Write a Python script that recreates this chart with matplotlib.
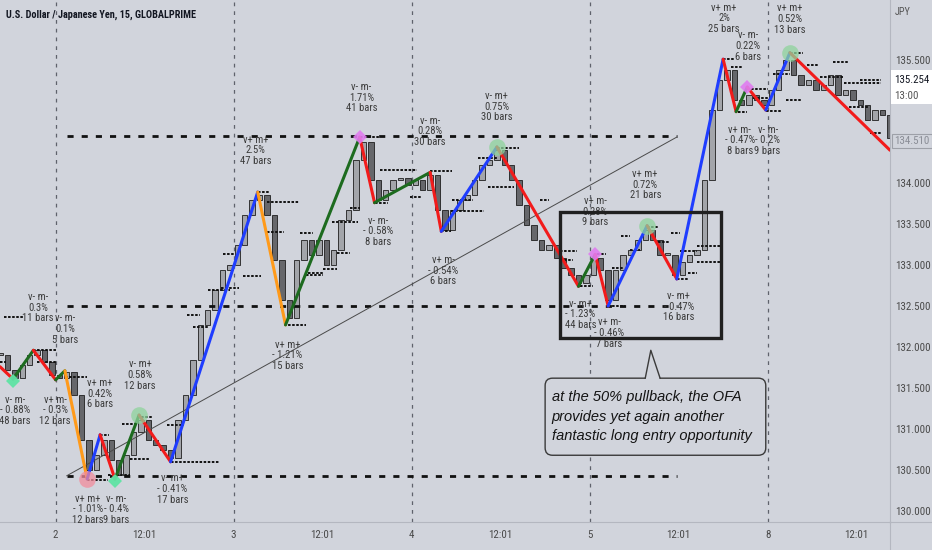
import matplotlib
matplotlib.use("Agg")
import matplotlib.pyplot as plt
import numpy as np
from matplotlib import transforms
from matplotlib.patches import Rectangle, FancyBboxPatch, Polygon


BG = "#d1d4dc"
NARROW = ["DejaVu Sans Condensed", "Roboto Condensed", "Liberation Sans Narrow",
          "Roboto", "DejaVu Sans"]

# close of every 4th 15-min bar
closes = [
    131.90, 131.72, 131.62, 131.78, 131.90, 131.96, 131.82, 131.66, 131.62, 131.70,
    131.41, 130.87, 130.50, 130.68, 130.87, 130.62, 130.44, 130.68, 130.96, 131.11,
    130.87, 130.80, 130.74, 130.65, 131.11, 131.41, 131.84, 132.27, 132.45, 132.70,
    132.94, 133.00, 133.24, 133.61, 133.79, 133.85, 133.61, 133.06, 132.57, 132.35,
    133.06, 133.30, 133.12, 133.30, 133.00, 133.18, 133.55, 133.67, 134.28, 134.50,
    134.04, 133.79, 133.91, 134.04, 134.06, 133.98, 134.04, 133.91, 134.10, 133.67,
    133.43, 133.67, 133.79, 133.85, 134.04, 134.22, 134.28, 134.40, 134.22, 134.04,
    133.73, 133.49, 133.30, 133.18, 133.24, 133.09, 132.96, 132.88, 132.78, 132.88,
    133.09, 132.94, 132.57, 132.94, 133.12, 133.18, 133.30, 133.43, 133.30, 133.12,
    133.12, 132.88, 133.04, 133.12, 133.18, 134.04, 134.89, 135.26, 135.38, 135.01,
    134.95, 135.07, 135.01, 134.95, 135.13, 135.38, 135.50, 135.32, 135.20, 135.26,
    135.13, 135.20, 135.32, 135.07, 135.13, 135.01, 134.95, 134.77, 134.89, 134.83,
    134.55,
]
BAR_STEP = 4

# zigzag pivots (bar index, price) and segment colours
piv_bar = [0, 7, 18, 30, 35, 47, 54, 62, 75, 92, 139, 154, 194, 202, 232, 238,
           268, 312, 321, 328, 349, 365, 390, 397, 403, 413, 426, 480]
piv_price = [131.76, 131.61, 131.96, 131.60, 131.71, 130.39, 130.93, 130.39, 131.17,
             130.60, 133.89, 132.27, 134.56, 133.76, 134.13, 133.41, 134.44, 132.74,
             133.13, 132.50, 133.48, 132.83, 135.51, 134.87, 135.17, 134.89, 135.59,
             134.40]
seg_color = ["red", "green", "red", "green", "orange", "blue", "red", "green", "red",
             "blue", "orange", "green", "red", "green", "red", "blue", "red", "green",
             "red", "blue", "red", "blue", "red", "green", "red", "blue", "red"]
COLOR_MAP = {"red": "#f21b1b", "green": "#1d6b1f", "orange": "#ff9a1a", "blue": "#1f3dff"}

# pivot markers
mk_bar = [7, 47, 62, 75, 194, 268, 321, 349, 403, 426]
mk_price = [131.58, 130.39, 130.37, 131.17, 134.56, 134.44, 133.13, 133.48, 135.17, 135.59]
mk_kind = ["gdiam", "pcirc", "gdiam", "gcirc", "vdiam", "gcirc", "vdiam", "gcirc",
           "vdiam", "gcirc"]

# pivot labels
lbl_bar = [20.5, 35, 8, 29.7, 54, 75.5, 47.5, 62.6, 93, 155, 138, 195, 204, 232, 239,
           268, 321, 348, 313, 328.5, 366, 390.5, 403.5, 399, 414, 426]
lbl_price = [132.48, 132.22, 131.23, 131.23, 131.43, 131.66, 130.02, 130.02, 130.27,
             131.90, 134.40, 135.04, 133.41, 134.63, 132.93, 134.93, 133.65, 133.98,
             132.40, 132.17, 132.49, 136.01, 135.67, 134.52, 134.52, 136.00]
lbl_text = [
    "v- m-\n0.3%\n11 bars", "v- m-\n0.1%\n5 bars", "v- m-\n- 0.88%\n48 bars",
    "v+ m-\n- 0.3%\n12 bars", "v+ m+\n0.42%\n6 bars", "v- m+\n0.58%\n12 bars",
    "v+ m+\n- 1.01%\n12 bars", "v- m-\n- 0.4%\n9 bars", "v- m+\n- 0.41%\n17 bars",
    "v+ m+\n- 1.21%\n15 bars", "v+ m+\n2.5%\n47 bars", "v- m-\n1.71%\n41 bars",
    "v- m-\n- 0.58%\n8 bars", "v- m-\n0.28%\n30 bars", "v+ m-\n- 0.54%\n6 bars",
    "v- m+\n0.75%\n30 bars", "v+ m-\n0.28%\n9 bars", "v+ m+\n0.72%\n21 bars",
    "v- m+\n- 1.23%\n44 bars", "v+ m-\n- 0.46%\n7 bars", "v- m+\n- 0.47%\n16 bars",
    "v+ m+\n2%\n25 bars", "v- m-\n0.22%\n6 bars", "v+ m-\n- 0.47%\n8 bars",
    "v- m-\n- 0.2%\n9 bars", "v+ m+\n0.52%\n13 bars",
]

# short dotted levels drawn by the indicator
lvl_start = [2, 18, 20, 35, 0, 54, 58, 74, 66, 90, 70, 92, 101, 104, 112, 47, 139, 144,
             144, 131, 119, 120, 162, 166, 174, 179, 182, 189, 194, 202, 205, 221, 232,
             238, 243, 244, 258, 263, 268, 153, 165, 291, 302, 302, 313, 322, 328, 330,
             335, 340, 349, 355, 362, 365, 371, 376, 376, 367, 390, 394, 398, 403, 413,
             406, 417, 426, 435, 442, 449, 455, 458, 469, 424, 464]
lvl_end = [13, 30, 30, 47, 3, 59, 70, 82, 74, 99, 81, 118, 108, 112, 124, 58, 145, 161,
           153, 141, 129, 127, 169, 174, 182, 193, 189, 194, 205, 209, 225, 227, 244,
           243, 261, 255, 268, 277, 280, 165, 174, 296, 311, 309, 320, 327, 337, 336,
           340, 345, 355, 361, 367, 371, 376, 389, 389, 376, 396, 400, 403, 414, 422,
           414, 426, 433, 441, 455, 458, 475, 468, 475, 432, 475]
lvl_price = [132.37, 131.96, 131.82, 131.63, 131.82, 130.93, 130.44, 131.15, 131.06,
             131.05, 130.63, 130.60, 132.39, 132.24, 132.70, 130.38, 133.89, 133.77,
             133.40, 132.87, 132.72, 133.13, 133.39, 132.90, 132.95, 133.52, 133.15,
             133.70, 134.56, 133.76, 134.16, 133.83, 134.15, 133.41, 133.66, 133.79,
             134.30, 133.95, 134.43, 132.27, 132.88, 133.79, 133.17, 133.06, 132.74,
             133.13, 132.50, 132.96, 133.35, 133.18, 133.46, 133.28, 133.39, 132.83,
             132.90, 133.23, 133.04, 133.17, 135.51, 135.41, 134.87, 135.15, 134.88,
             135.04, 135.33, 135.59, 135.44, 135.29, 135.48, 135.22, 134.93, 134.61,
             135.01, 135.26]

# long dashed levels and trend line
long_levels = [134.57, 132.50, 130.43]
long_start, long_end = 36, 365
trend_bar = [36, 365]
trend_price = [130.43, 134.56]

# 50% pullback box and callout
box_bar = (302, 389)
box_price = (132.11, 133.65)
call_bar = (294, 413)
call_price = (130.68, 131.62)
call_tip = (351, 131.96)
call_text = "at the 50% pullback, the OFA\nprovides yet again another\nfantastic long entry opportunity"

x_ticks = [30, 78, 126, 174, 222, 270, 318, 366, 414, 462]
x_labels = ["2", "12:01", "3", "12:01", "4", "12:01", "5", "12:01", "8", "12:01"]
day_lines = [30, 126, 222, 318, 414]
# 134.5 and 135.0 sit under the price tags, so they are not shown
price_ticks = [130.0, 130.5, 131.0, 131.5, 132.0, 132.5, 133.0, 133.5, 134.0, 135.5]
last_price = 135.254
last_time = "13:00"
prev_price = 134.510


def draw_candles(ax):
    x = np.arange(len(closes)) * BAR_STEP
    c = np.array(closes)
    o = np.concatenate([[c[0]], c[:-1]])
    h = np.where(np.abs(c - o) < 0.02, 0.03, c - o)
    up = c >= o
    ax.bar(x[up], h[up], bottom=o[up], width=2.9, color="#a3a5aa",
           edgecolor="#1e1e1e", linewidth=0.6, zorder=2)
    ax.bar(x[~up], h[~up], bottom=o[~up], width=2.9, color="#66676b",
           edgecolor="#1e1e1e", linewidth=0.6, zorder=2)


def draw_zigzag(ax):
    for i, col in enumerate(seg_color):
        ax.plot(piv_bar[i:i + 2], piv_price[i:i + 2], color=COLOR_MAP[col],
                linewidth=2.2, zorder=5, solid_capstyle="round")

    styles = {
        "gdiam": dict(marker="D", ms=7, color="#5fe3a4", alpha=0.95),
        "vdiam": dict(marker="D", ms=7.5, color="#e07cf0", alpha=0.9),
        "gcirc": dict(marker="o", ms=12, color="#8fd39c", alpha=0.75),
        "pcirc": dict(marker="o", ms=12, color="#f28c9c", alpha=0.75),
    }
    for b, p, k in zip(mk_bar, mk_price, mk_kind):
        st = styles[k]
        ax.plot(b, p, marker=st["marker"], markersize=st["ms"], color=st["color"],
                alpha=st["alpha"], markeredgewidth=0, zorder=6, linestyle="none")

    for b, p, t in zip(lbl_bar, lbl_price, lbl_text):
        ax.text(b, p, t, ha="center", va="center", fontsize=7.7, color="#3b3b3b",
                linespacing=1.08, family=NARROW, zorder=7)


def draw_callout(ax):
    ax.add_patch(Rectangle((box_bar[0], box_price[0]), box_bar[1] - box_bar[0],
                           box_price[1] - box_price[0], fill=False, edgecolor="#202020",
                           linewidth=2.4, zorder=8))

    asp = (1.854 / 82.0)
    ax.add_patch(FancyBboxPatch((call_bar[0], call_price[0]), call_bar[1] - call_bar[0],
                                call_price[1] - call_price[0],
                                boxstyle="round,pad=0,rounding_size=4",
                                mutation_aspect=asp, facecolor=BG, edgecolor="#3a3a3a",
                                linewidth=1.0, zorder=8))
    bx0, bx1 = call_tip[0] - 3, call_tip[0] + 5
    ax.add_patch(Polygon([(bx0, call_price[1] - 0.02), (call_tip[0], call_tip[1]),
                          (bx1, call_price[1] - 0.02)], closed=True, facecolor=BG,
                         edgecolor="none", zorder=9))
    ax.plot([bx0, call_tip[0], bx1], [call_price[1], call_tip[1], call_price[1]],
            color="#3a3a3a", linewidth=1.0, zorder=9)
    ax.text(call_bar[0] + 3.5, (call_price[0] + call_price[1]) / 2, call_text,
            ha="left", va="center", fontsize=10.5, style="italic", color="#141414",
            linespacing=1.5, family=["Liberation Sans", "DejaVu Sans"], zorder=10)


def main():
    fig = plt.figure(figsize=(9.32, 5.5), dpi=100, facecolor=BG)
    ax = fig.add_axes([0, 28 / 550, 890 / 932, 522 / 550])
    ax.set_facecolor(BG)
    ax.set_xlim(0, 480)
    ax.set_ylim(129.866, 136.232)

    for d in day_lines:
        ax.axvline(d, color="#5f626c", linewidth=0.9, linestyle=(0, (3, 4)), zorder=1)

    ax.hlines(long_levels, long_start, long_end, colors="#111111", linewidth=2.0,
              linestyles=(0, (2.2, 2.9)), zorder=3)
    ax.plot(trend_bar, trend_price, color="#4a4a4a", linewidth=0.7, zorder=3)

    draw_candles(ax)
    ax.hlines(lvl_price, lvl_start, lvl_end, colors="#111111", linewidth=1.4,
              linestyles=(0, (1.3, 0.8)), zorder=4)
    draw_zigzag(ax)
    draw_callout(ax)

    # axes styling
    for s in ["top", "left"]:
        ax.spines[s].set_visible(False)
    for s in ["bottom", "right"]:
        ax.spines[s].set_color("#b4b7c0")
        ax.spines[s].set_linewidth(0.8)
    ax.yaxis.tick_right()
    ax.set_yticks(price_ticks)
    ax.set_yticklabels([f"{v:.3f}" for v in price_ticks], family=NARROW)
    ax.set_xticks(x_ticks)
    ax.set_xticklabels(x_labels, family=NARROW)
    ax.tick_params(axis="both", length=0, labelsize=7.9, labelcolor="#4a4a4a")
    ax.tick_params(axis="y", pad=4)
    ax.tick_params(axis="x", pad=6)

    # last / previous price tags on the price scale
    tr = transforms.blended_transform_factory(ax.transAxes, ax.transData)
    ax.add_patch(Rectangle((1.001, last_price - 24 / 82), 0.047, 34 / 82,
                           transform=tr, facecolor="white", edgecolor="none",
                           clip_on=False, zorder=11))
    ax.text(1.005, last_price, f"{last_price:.3f}", transform=tr, ha="left",
            va="center", fontsize=7.9, color="#131722", family=NARROW, zorder=12)
    ax.text(1.005, last_price - 16 / 82, last_time, transform=tr, ha="left",
            va="center", fontsize=7.9, color="#555555", family=NARROW, zorder=12)
    ax.text(1.005, prev_price, f"{prev_price:.3f}", transform=tr, ha="left",
            va="center", fontsize=7.9, color="#8a8d96", family=NARROW, zorder=12,
            bbox=dict(boxstyle="square,pad=0.2", facecolor=BG, edgecolor="#9da0a8",
                      linewidth=0.8))

    fig.add_artist(plt.Line2D([890 / 932, 1], [28 / 550, 28 / 550], color="#b4b7c0",
                              linewidth=0.8))
    fig.add_artist(plt.Line2D([890 / 932, 890 / 932], [0, 28 / 550], color="#b4b7c0",
                              linewidth=0.8))

    fig.text(6 / 932, 1 - 15 / 550, "U.S. Dollar / Japanese Yen, 15, GLOBALPRIME",
             ha="left", va="center", fontsize=7.4, fontweight="bold", color="#131722",
             family=NARROW)
    fig.text(903 / 932, 1 - 12 / 550, "JPY", ha="center", va="center", fontsize=7.4,
             color="#555555", family=NARROW)

    fig.savefig("out.png", dpi=100, facecolor=BG)
    plt.close(fig)


if __name__ == "__main__":
    main()
